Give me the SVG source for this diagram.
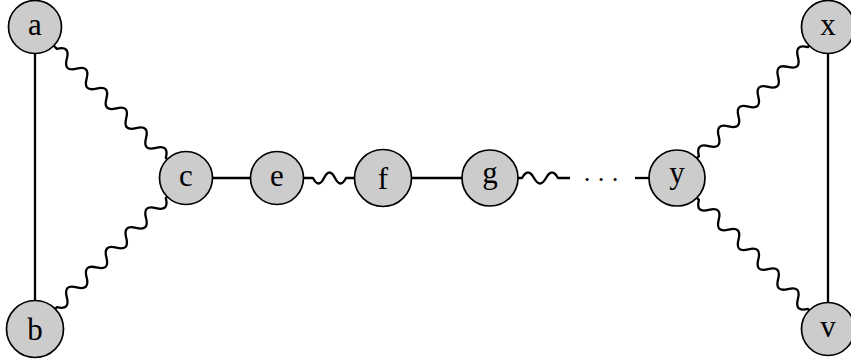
<svg xmlns="http://www.w3.org/2000/svg" width="851" height="363" viewBox="0 0 851 363">
<style>
.n circle{fill:#cccccc;stroke:#000;stroke-width:1.7}
.n text{font-family:"Liberation Serif","DejaVu Serif",serif;font-size:31px;text-anchor:middle;fill:#000}
.e path,.e line{fill:none;stroke:#000;stroke-width:2.3;stroke-linejoin:round}
.dots{font-family:"Liberation Serif","DejaVu Serif",serif;font-size:26px;fill:#000;text-anchor:middle}
</style>
<rect width="851" height="363" fill="#fff"/>
<g id="edges" class="e">
<line x1="35" y1="53.5" x2="35" y2="300.5"/>
<line x1="828" y1="53.5" x2="828" y2="302.5"/>
<path transform="translate(35,27) rotate(45)" d="M26.5,0 L31,0 q7,-12 14,0 t14,0 t14,0 t14,0 t14,0 t14,0 t14,0 t14,0 t14,0 t14,0 t14,0 L187,0"/>
<path transform="translate(35,329) rotate(-45)" d="M28.5,0 L31,0 q7,12 14,0 t14,0 t14,0 t14,0 t14,0 t14,0 t14,0 t14,0 t14,0 t14,0 t14,0 L187,0"/>
<path transform="translate(677,178) rotate(-45)" d="M28,0 L31,0 q7,-12 14,0 t14,0 t14,0 t14,0 t14,0 t14,0 t14,0 t14,0 t14,0 t14,0 t14,0 L187,0"/>
<path transform="translate(677,178) rotate(45)" d="M28,0 L31,0 q7,12 14,0 t14,0 t14,0 t14,0 t14,0 t14,0 t14,0 t14,0 t14,0 t14,0 t14,0 L187,0"/>
<line x1="212" y1="178" x2="250.5" y2="178"/>
<path d="M303.5,178 L313,178 q5.5,11 11,0 t11,0 t11,0 L354.5,178"/>
<line x1="411.5" y1="178" x2="462" y2="178"/>
<path d="M518,178 L522,178 q6,-11 12,0 t12,0 t12,0 L570,178"/>
<line x1="635" y1="178" x2="649.5" y2="178"/>
</g>
<text class="dots" x="587 601 615" y="188">···</text>
<g id="a" class="n"><circle cx="35" cy="27" r="26.5"/><text x="35" y="34.5">a</text></g>
<g id="b" class="n"><circle cx="35" cy="329" r="28.5"/><text x="35" y="340">b</text></g>
<g id="c" class="n"><circle cx="186" cy="178" r="26.5"/><text x="186" y="185.5">c</text></g>
<g id="e" class="n"><circle cx="277" cy="178" r="26.5"/><text x="277" y="185.5">e</text></g>
<g id="f" class="n"><circle cx="383" cy="178" r="28.5"/><text x="383" y="189">f</text></g>
<g id="g" class="n"><circle cx="490" cy="178" r="28"/><text x="490" y="182.5">g</text></g>
<g id="y" class="n"><circle cx="677" cy="178" r="28"/><text x="677" y="182.5">y</text></g>
<g id="x" class="n"><circle cx="828" cy="27" r="26.5"/><text x="828" y="34.5">x</text></g>
<g id="v" class="n"><circle cx="828" cy="329" r="26.5"/><text x="828" y="336.5">v</text></g>
</svg>
